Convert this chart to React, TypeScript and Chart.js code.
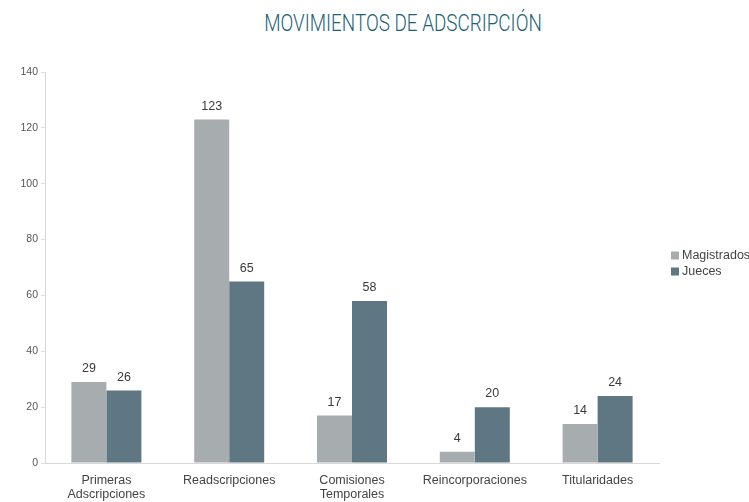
import React, { useEffect, useRef } from "react";
import { Chart, registerables } from "chart.js";

Chart.register(...registerables);

const categories: (string | string[])[] = [
  ["Primeras", "Adscripciones"],
  "Readscripciones",
  ["Comisiones", "Temporales"],
  "Reincorporaciones",
  "Titularidades",
];
const magistrados = [29, 123, 17, 4, 14];
const jueces = [26, 65, 58, 20, 24];
const yTicks = [0, 20, 40, 60, 80, 100, 120, 140];
const seriesNames = ["Magistrados", "Jueces"];
const seriesColors = ["#a7acaf", "#5e7782"];
const titleText = "MOVIMIENTOS DE ADSCRIPCIÓN";
const FONT = "'Liberation Sans', Arial, sans-serif";

const valueLabels = {
  id: "valueLabels",
  afterDatasetsDraw(chart: any) {
    const ctx = chart.ctx;
    ctx.save();
    ctx.font = "12.5px " + FONT;
    ctx.fillStyle = "#3a3a3a";
    ctx.textAlign = "center";
    ctx.textBaseline = "bottom";
    chart.data.datasets.forEach((ds: any, i: number) => {
      const meta = chart.getDatasetMeta(i);
      meta.data.forEach((el: any, j: number) => {
        ctx.fillText(String(ds.data[j]), el.x, el.y - 7);
      });
    });
    ctx.restore();
  },
};

const sideLegend = {
  id: "sideLegend",
  afterDraw(chart: any) {
    const ctx = chart.ctx;
    const area = chart.chartArea;
    const x0 = area.right + 12;
    const gap = 16;
    const n = chart.data.datasets.length;
    const cy = (area.top + area.bottom) / 2 - 4 - ((n - 1) * gap) / 2;
    ctx.save();
    ctx.font = "12.5px " + FONT;
    ctx.textBaseline = "middle";
    ctx.textAlign = "left";
    chart.data.datasets.forEach((ds: any, i: number) => {
      const y = cy + i * gap;
      ctx.fillStyle = ds.backgroundColor;
      ctx.fillRect(x0, y - 4, 8, 8);
      ctx.fillStyle = "#444";
      ctx.fillText(ds.label, x0 + 11, y);
    });
    ctx.restore();
  },
};

export default function App() {
  const ref = useRef<HTMLCanvasElement>(null);
  useEffect(() => {
    if (!ref.current) return;
    const chart = new Chart(ref.current, {
      type: "bar",
      data: {
        labels: categories,
        datasets: [
          {
            label: seriesNames[0],
            data: magistrados,
            backgroundColor: seriesColors[0],
            categoryPercentage: 0.57,
            barPercentage: 1,
          },
          {
            label: seriesNames[1],
            data: jueces,
            backgroundColor: seriesColors[1],
            categoryPercentage: 0.57,
            barPercentage: 1,
          },
        ],
      },
      options: {
        animation: false,
        responsive: false,
        maintainAspectRatio: false,
        layout: { padding: { top: 72, left: 0, right: 90, bottom: 0 } },
        plugins: {
          title: { display: false },
          tooltip: { enabled: false },
          legend: { display: false },
        },
        scales: {
          x: {
            grid: { display: false },
            border: { display: true, color: "#d8d8d8" },
            ticks: {
              color: "#444",
              padding: 3,
              maxRotation: 0,
              autoSkip: false,
              font: { size: 12.5, family: FONT, lineHeight: 1.1 },
            },
            afterFit: (s: any) => {
              s.height = 39;
            },
          },
          y: {
            min: 0,
            max: 140,
            afterBuildTicks: (s: any) => {
              s.ticks = yTicks.map((v) => ({ value: v }));
            },
            grid: { drawOnChartArea: false, drawTicks: true, tickLength: 4, color: "#e0e0e0" },
            border: { display: true, color: "#d8d8d8" },
            ticks: {
              color: "#555",
              padding: 3,
              font: { size: 10.5, family: FONT },
            },
            afterFit: (s: any) => {
              s.width = 45;
            },
          },
        },
      },
      plugins: [valueLabels, sideLegend],
    });
    return () => chart.destroy();
  }, []);

  return (
    <div style={{ position: "fixed", left: 0, top: 0, width: 749, height: 502, overflow: "hidden", background: "#fff" }}>
      <div
        style={{
          position: "absolute",
          left: 0,
          top: 10,
          width: 806,
          textAlign: "center",
          fontFamily: "Roboto, 'DejaVu Sans Condensed', sans-serif",
          fontWeight: 300,
          fontSize: 23,
          lineHeight: "28px",
          color: "#1d6376",
          transform: "scaleX(0.82)",
          transformOrigin: "403px 0",
          whiteSpace: "nowrap",
        }}
      >
        {titleText}
      </div>
      <canvas ref={ref} width={749} height={502} style={{ position: "absolute", left: 0, top: 0 }} />
    </div>
  );
}
